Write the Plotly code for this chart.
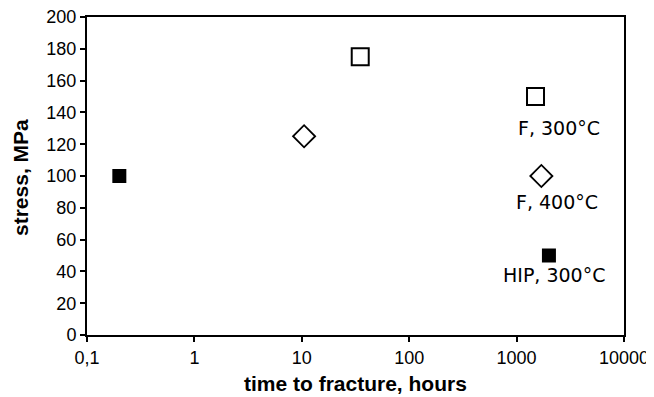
import math
import plotly.graph_objects as go

# Data
f300_time = [35, 1500]
f300_stress = [175, 150]
f400_time = [10.5, 1700]
f400_stress = [125, 100]
hip300_time = [0.2, 2000]
hip300_stress = [100, 50]

x_tickvals = [0.1, 1, 10, 100, 1000, 10000]
x_ticktext = ["0,1", "1", "10", "100", "1000", "10000"]
y_tickvals = [0, 20, 40, 60, 80, 100, 120, 140, 160, 180, 200]

labels = ["F, 300°C", "F, 400°C", "HIP, 300°C"]
label_x = [2500, 2400, 2250]
label_y = [130, 83.5, 37.5]

# The page body has an 8px margin; size the figure so it fits the 654x397 window.
W, H = 646, 389
ML, MR, MT, MB = 79, 30, 9, 62
plot_w = W - ML - MR
plot_h = H - MT - MB

fig = go.Figure()
fig.add_trace(go.Scatter(x=f300_time, y=f300_stress, mode="markers", name="F, 300°C",
                         marker=dict(symbol="square-open", size=17, color="black",
                                     line=dict(width=2, color="black"))))
fig.add_trace(go.Scatter(x=f400_time, y=f400_stress, mode="markers", name="F, 400°C",
                         marker=dict(symbol="diamond", size=17, color="white",
                                     line=dict(width=1.8, color="black"))))
fig.add_trace(go.Scatter(x=hip300_time, y=hip300_stress, mode="markers", name="HIP, 300°C",
                         marker=dict(symbol="square", size=14, color="black",
                                     line=dict(width=0))))

for t, lx, ly in zip(labels, label_x, label_y):
    fig.add_annotation(x=math.log10(lx), y=ly, text=t, showarrow=False,
                       font=dict(family="DejaVu Sans", size=19, color="black"),
                       xanchor="center", yanchor="middle")

# axis titles (figure pixel positions converted to paper coords)
fig.add_annotation(x=0.5, y=-(375 - (H - MB)) / plot_h, xref="paper", yref="paper",
                   text="<b>time to fracture, hours</b>", showarrow=False, borderpad=0,
                   font=dict(family="Liberation Sans, Arial", size=21, color="black"),
                   xanchor="center", yanchor="middle")
fig.add_annotation(x=(12 - ML) / plot_w, y=((H - MB) - 170) / plot_h, xref="paper", yref="paper",
                   text="<b>stress, MPa</b>", textangle=-90, showarrow=False,
                   font=dict(family="Liberation Sans, Arial", size=21, color="black"),
                   xanchor="center", yanchor="middle")

axis_font = dict(family="Liberation Sans, Arial", size=18, color="black")

fig.update_layout(
    width=W, height=H,
    margin=dict(l=ML, r=MR, t=MT, b=MB),
    paper_bgcolor="white", plot_bgcolor="white",
    showlegend=False,
    xaxis=dict(type="log", range=[-1, 4], tickvals=x_tickvals, ticktext=x_ticktext,
               showgrid=False, zeroline=False, showline=True, linecolor="black",
               linewidth=2, mirror=True, ticks="outside", ticklen=5, tickwidth=2,
               tickcolor="black", tickfont=axis_font, automargin=False),
    yaxis=dict(range=[0, 200.001], tickvals=y_tickvals,
               showgrid=False, zeroline=False, showline=True, linecolor="black",
               linewidth=2, mirror=True, ticks="outside", ticklen=5, tickwidth=2,
               tickcolor="black", tickfont=axis_font, automargin=False,
               ticklabeloverflow="allow"),
)

fig.write_html("out.html")
